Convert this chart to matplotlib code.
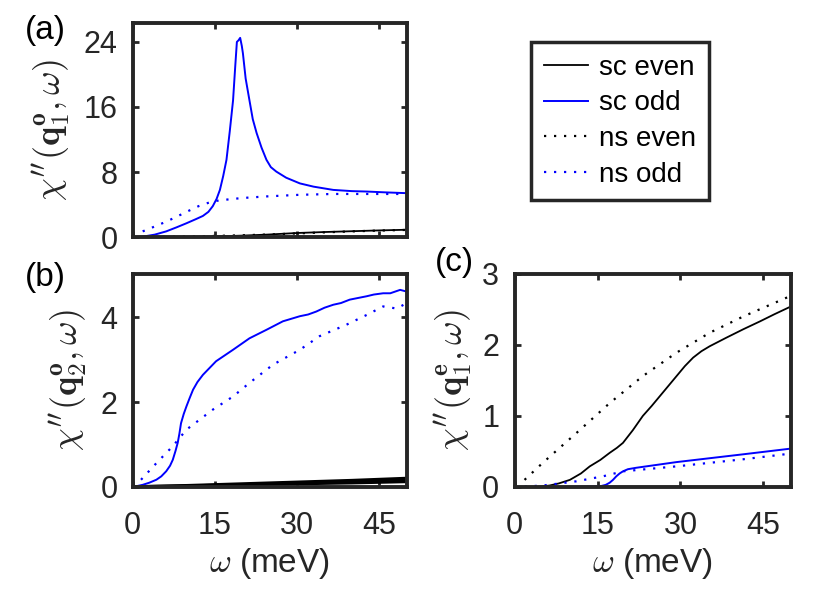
import matplotlib
matplotlib.use("Agg")
import matplotlib.pyplot as plt

plt.rcParams['font.family'] = ['Liberation Sans', 'DejaVu Sans']
plt.rcParams['mathtext.fontset'] = 'cm'

# panel (a): q1 odd
a_sc_odd_x = [0, 1.8, 4, 6.1, 8, 9.8, 11.5, 12.8, 13.8, 14.6, 15.3, 15.9, 16.5, 17.1, 17.7, 18.3, 18.7, 19.0, 19.3, 19.6, 19.9, 20.1,
              20.6, 21.3, 21.9, 22.6, 23.5, 24.4, 25.2, 26.2, 28, 30.5, 33, 36.6, 40, 42.7, 46, 50]
a_sc_odd_y = [0, 0.05, 0.3, 0.7, 1.2, 1.7, 2.2, 2.6, 3.1, 3.8, 4.7, 5.8, 7.5, 9.5, 13, 16.8, 21, 24.0, 24.2, 24.5, 23.5, 22.6,
              19.5, 16.8, 14.5, 12.8, 11, 9.5, 8.6, 8.05, 7.3, 6.6, 6.2, 5.8, 5.65, 5.6, 5.5, 5.4]
a_ns_odd_x = [1.8, 4, 6.1, 8, 9.8, 12, 14.6, 18.3, 21, 24.4, 30.5, 36.6, 42, 50]
a_ns_odd_y = [0.7, 1.3, 1.9, 2.5, 3.1, 3.8, 4.4, 4.7, 4.85, 5.0, 5.2, 5.3, 5.3, 5.3]
a_sc_even_x = [0, 10, 15, 20, 24.4, 30, 35, 40, 45, 50]
a_sc_even_y = [0, 0.02, 0.08, 0.18, 0.3, 0.5, 0.62, 0.72, 0.82, 0.9]
a_ns_even_x = [0, 5, 10, 15, 20, 25, 30, 35, 40, 45, 50]
a_ns_even_y = [0, 0.04, 0.08, 0.14, 0.22, 0.32, 0.45, 0.58, 0.7, 0.8, 0.88]

# panel (b): q2 odd
b_sc_odd_x = [0, 1.8, 3, 4.3, 5.2, 6.1, 6.8, 7.3, 7.8, 8.2, 8.5, 8.8, 9.3, 9.8, 10.4, 11, 11.8, 12.8, 14, 15.2, 18.3, 21.3,
              24.4, 27.4, 30.5, 32, 33.5, 35, 36.6, 38, 39.6, 42.7, 44, 45.7, 47, 48.8, 50]
b_sc_odd_y = [0, 0.05, 0.1, 0.17, 0.25, 0.37, 0.5, 0.64, 0.85, 1.04, 1.25, 1.5, 1.72, 1.9, 2.1, 2.29, 2.47, 2.64, 2.8, 2.96, 3.23, 3.5,
              3.7, 3.9, 4.02, 4.06, 4.13, 4.22, 4.29, 4.33, 4.41, 4.49, 4.53, 4.56, 4.56, 4.64, 4.6]
b_ns_odd_x = [1.5, 4.3, 7.3, 9.8, 14.6, 18.3, 21.3, 25.6, 30.5, 34.1, 39, 42.7, 45.7, 48.2, 50]
b_ns_odd_y = [0.17, 0.56, 0.96, 1.35, 1.82, 2.13, 2.45, 2.88, 3.23, 3.55, 3.82, 4.05, 4.25, 4.2, 4.33]
b_sc_even_x = [0, 10, 20, 30, 40, 50]
b_sc_even_y = [0, 0.03, 0.07, 0.11, 0.15, 0.2]
b_ns_even_x = [0, 10, 20, 30, 40, 50]
b_ns_even_y = [0, 0.02, 0.05, 0.08, 0.1, 0.13]

# panel (c): q1 even
c_sc_even_x = [0, 4, 6.3, 8, 10, 12, 13.6, 15.5, 17.2, 18.5, 19.6, 21.4, 23.2, 24.8, 26.3, 27.8, 29.3, 30.8, 32.3, 33.8,
               35.3, 36.8, 38.3, 41.4, 44.4, 47, 50]
c_sc_even_y = [0, 0.0, 0.02, 0.05, 0.1, 0.19, 0.29, 0.38, 0.48, 0.55, 0.62, 0.8, 1.0, 1.14, 1.28, 1.42, 1.56, 1.7, 1.82, 1.91,
               1.98, 2.04, 2.1, 2.22, 2.33, 2.43, 2.54]
c_ns_even_x = [1.8, 5.1, 11.2, 17.2, 23.2, 29.3, 35.3, 41.4, 50]
c_ns_even_y = [0.1, 0.34, 0.76, 1.18, 1.56, 1.89, 2.17, 2.4, 2.69]
c_sc_odd_x = [0, 5, 10, 15.5, 16.5, 17.2, 17.8, 18.4, 19.0, 19.6, 20.5, 22, 29.3, 41.4, 50]
c_sc_odd_y = [0, 0.0, 0.0, 0.01, 0.03, 0.06, 0.1, 0.15, 0.19, 0.22, 0.25, 0.27, 0.35, 0.46, 0.54]
c_ns_odd_x = [0, 5.1, 11.2, 16, 19.6, 29.3, 41.4, 50]
c_ns_odd_y = [0, 0.02, 0.08, 0.15, 0.22, 0.29, 0.39, 0.47]

x_ticks = [0, 15, 30, 45]
edge = '#262626'
dot = (0, (1, 3.5))

fig = plt.figure(figsize=(8.3, 6.11), dpi=100)
ax_a = fig.add_axes([0.160, 0.612, 0.330, 0.350])
ax_b = fig.add_axes([0.160, 0.203, 0.330, 0.349])
ax_c = fig.add_axes([0.620, 0.203, 0.333, 0.349])

h1, = ax_a.plot(a_sc_even_x, a_sc_even_y, color='k', lw=1.3, label='sc even')
h2, = ax_a.plot(a_sc_odd_x, a_sc_odd_y, color='#0000ff', lw=1.4, label='sc odd')
h3, = ax_a.plot(a_ns_even_x, a_ns_even_y, color='k', lw=1.6, ls=dot, label='ns even')
h4, = ax_a.plot(a_ns_odd_x, a_ns_odd_y, color='#0000ff', lw=1.6, ls=dot, label='ns odd')

ax_b.plot(b_sc_even_x, b_sc_even_y, color='k', lw=2.5)
ax_b.plot(b_sc_odd_x, b_sc_odd_y, color='#0000ff', lw=1.4)
ax_b.plot(b_ns_even_x, b_ns_even_y, color='k', lw=2.5)
ax_b.plot(b_ns_odd_x, b_ns_odd_y, color='#0000ff', lw=1.6, ls=dot)

ax_c.plot(c_sc_even_x, c_sc_even_y, color='k', lw=1.3)
ax_c.plot(c_sc_odd_x, c_sc_odd_y, color='#0000ff', lw=1.4)
ax_c.plot(c_ns_even_x, c_ns_even_y, color='k', lw=1.6, ls=dot)
ax_c.plot(c_ns_odd_x, c_ns_odd_y, color='#0000ff', lw=1.6, ls=dot)

ax_a.set_ylim(0, 26.3)
ax_a.set_yticks([0, 8, 16, 24])
ax_b.set_ylim(0, 5.02)
ax_b.set_yticks([0, 2, 4])
ax_c.set_ylim(0, 3)
ax_c.set_yticks([0, 1, 2, 3])

lab_size = 26
ax_a.set_ylabel(r'$\chi^{\prime\prime}(\mathbf{q}_\mathbf{1}^\mathbf{o},\omega)$', fontsize=lab_size, labelpad=8)
ax_b.set_ylabel(r'$\chi^{\prime\prime}(\mathbf{q}_\mathbf{2}^\mathbf{o},\omega)$', fontsize=lab_size, labelpad=8)
ax_c.set_ylabel(r'$\chi^{\prime\prime}(\mathbf{q}_\mathbf{1}^\mathbf{e},\omega)$', fontsize=lab_size, labelpad=6)

for ax in (ax_a, ax_b, ax_c):
    ax.set_xlim(0, 50)
    ax.set_xticks(x_ticks)
    ax.tick_params(direction='in', top=True, right=True, length=4, width=2,
                   labelsize=22, colors=edge, labelcolor=edge)
    ax.tick_params(axis='x', pad=17)
    ax.tick_params(axis='y', pad=11)
    for s in ax.spines.values():
        s.set_linewidth(2.8)
        s.set_color(edge)
    ax.yaxis.label.set_color(edge)

ax_a.set_xticklabels([])
ax_b.set_xlabel(r'$\omega$ (meV)', fontsize=24, color=edge, labelpad=4)
ax_c.set_xlabel(r'$\omega$ (meV)', fontsize=24, color=edge, labelpad=4)

fig.text(0.030, 0.975, '(a)', fontsize=24, va='top')
fig.text(0.030, 0.571, '(b)', fontsize=24, va='top')
fig.text(0.524, 0.596, '(c)', fontsize=24, va='top')

leg = fig.legend(handles=[h1, h2, h3, h4], loc='upper left',
                 bbox_to_anchor=(0.640, 0.931), borderaxespad=0, fontsize=20,
                 handlelength=1.6, handletextpad=0.4, labelspacing=0.35,
                 borderpad=0.45, fancybox=False, framealpha=1)
leg.get_frame().set_edgecolor(edge)
leg.get_frame().set_linewidth(2.5)

fig.savefig('out.png', dpi=100)
